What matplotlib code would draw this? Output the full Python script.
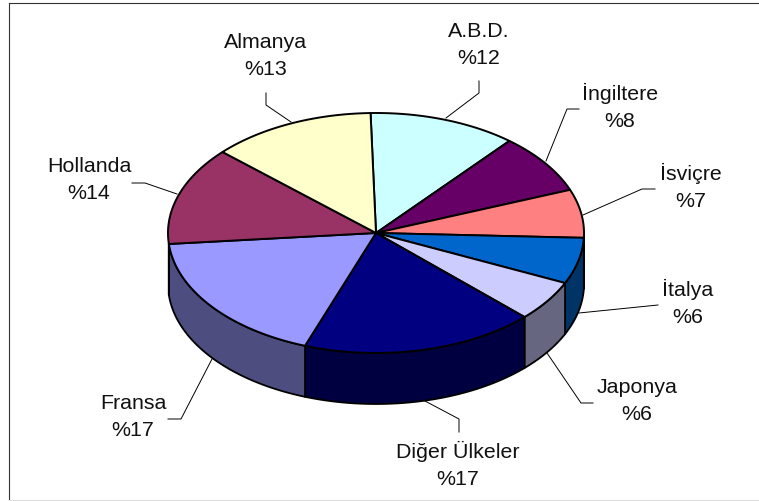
import matplotlib
matplotlib.use("Agg")
import matplotlib.pyplot as plt
import numpy as np
from matplotlib.patches import Polygon

plt.rcParams['font.family'] = ['Liberation Sans', 'DejaVu Sans']

#Slices, clockwise from the top
countries = ['A.B.D.', 'İngiltere', 'İsviçre', 'İtalya', 'Japonya', 'Diğer Ülkeler', 'Fransa', 'Hollanda', 'Almanya']
percent_labels = [12, 8, 7, 6, 6, 17, 17, 14, 13]
#Shares as measured on the drawn slices (the 3D view stretches the front ones)
drawn_shares = [11.5, 8.06, 6.5, 6.2, 5.5, 18.2, 18.0, 13.25, 12.79]
top_colors = ['#CCFFFF', '#660066', '#FF8080', '#0066CC', '#CCCCFF', '#000080', '#9999FF', '#993366', '#FFFFCC']
side_colors = ['#668080', '#330033', '#804040', '#003366', '#666680', '#000040', '#4D4D80', '#4D1A33', '#808066']

#Pie geometry, in picture pixels
cx, cy = 376, 233
rx, ry = 208, 120
depth = 51
start_angle = -1.5
hidden_after = 265

#Label centres and leader lines, in picture pixels
label_pos = [(479, 45), (620, 107), (691, 187), (688, 303), (637, 401), (458, 465), (133, 417), (89, 180), (266, 56)]
leaders = [
    [(479, 81), (479, 93), (446, 118)],
    [(579, 109), (567, 109), (546, 161)],
    [(655, 189), (642, 189), (583, 215)],
    [(658, 305), (579, 313)],
    [(593, 403), (581, 403), (547, 353)],
    [(459, 432), (459, 419), (425, 401)],
    [(168, 419), (181, 419), (212, 359)],
    [(132, 183), (145, 183), (177, 194)],
    [(266, 93), (266, 105), (291, 122)],
]


def rim(a0, a1, dy=0):
    t = np.radians(np.linspace(a0, a1, 80))
    return np.column_stack((cx + rx * np.sin(t), cy - ry * np.cos(t) + dy))


fig = plt.figure(figsize=(7.59, 5.01), dpi=100)
ax = fig.add_axes([0, 0, 1, 1])
ax.set_xlim(0, 759)
ax.set_ylim(501, 0)
ax.axis('off')

#Frame
ax.plot([8.5, 8.5], [3, 501], color='#333333', lw=0.8)
ax.plot([8.5, 759], [3, 3], color='#333333', lw=0.8)
ax.plot([8.5, 759], [499.5, 499.5], color='#DDDDDD', lw=0.8)

edges = start_angle + np.concatenate(([0], np.cumsum(drawn_shares))) * 3.6

#Side walls first, only the front of the pie shows them
for i in range(len(countries)):
    a0 = max(edges[i], 90)
    a1 = min(edges[i + 1], hidden_after)
    if a1 > a0:
        wall = np.vstack((rim(a0, a1), rim(a0, a1, depth)[::-1]))
        ax.add_patch(Polygon(wall, closed=True, facecolor=side_colors[i], edgecolor='black', lw=1.3, joinstyle='round'))

#Top of the pie
for i in range(len(countries)):
    wedge = np.vstack(([(cx, cy)], rim(edges[i], edges[i + 1])))
    ax.add_patch(Polygon(wedge, closed=True, facecolor=top_colors[i], edgecolor='black', lw=1.4, joinstyle='round'))

#Labels
for i in range(len(countries)):
    xs, ys = zip(*leaders[i])
    ax.plot(xs, ys, color='black', lw=0.7)
    ax.text(label_pos[i][0], label_pos[i][1], countries[i] + '\n%' + str(percent_labels[i]),
            ha='center', va='center', ma='center', fontsize=15.4, linespacing=1.55, color='#111111')

fig.savefig('out.png', dpi=100)
